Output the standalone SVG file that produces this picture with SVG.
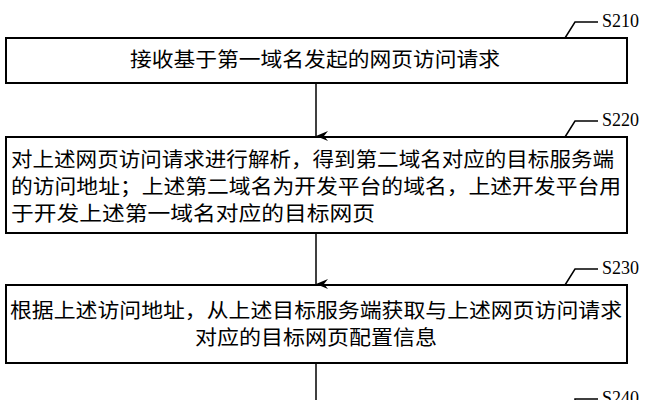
<svg xmlns="http://www.w3.org/2000/svg" width="660" height="400" viewBox="0 0 660 400">
<style>
.b{fill:#fff;stroke:#000;stroke-width:2}
.t{font-family:"Noto Sans CJK SC","Liberation Serif",sans-serif;font-size:20px;fill:#000}
.l{font-family:"Liberation Serif",serif;font-size:18px;fill:#000}
.c{fill:none;stroke:#000;stroke-width:1.5}
</style>
<defs><marker id="a" markerWidth="10" markerHeight="12" refX="5" refY="12" orient="auto" markerUnits="userSpaceOnUse"><path d="M0,0 L5,12 L10,0 L5,4 Z" fill="#000"/></marker></defs>
<rect width="660" height="400" fill="#fff"/>
<g id="n1"><rect class="b" x="6" y="38" width="621" height="45"/><text class="t" x="130" y="67" textLength="370" lengthAdjust="spacingAndGlyphs">接收基于第一域名发起的网页访问请求</text>
<path class="c" d="M565,38 L575,22 L598,22"/><text class="l" x="602" y="27">S210</text></g>
<g id="n2"><rect class="b" x="6" y="137" width="621" height="96"/>
<text class="t" x="11" y="167" textLength="603" lengthAdjust="spacingAndGlyphs">对上述网页访问请求进行解析，得到第二域名对应的目标服务端</text>
<text class="t" x="11" y="194" textLength="610" lengthAdjust="spacingAndGlyphs">的访问地址；上述第二域名为开发平台的域名，上述开发平台用</text>
<text class="t" x="11" y="221" textLength="364" lengthAdjust="spacingAndGlyphs">于开发上述第一域名对应的目标网页</text>
<path class="c" d="M565,137 L575,121 L598,121"/><text class="l" x="602" y="126">S220</text></g>
<g id="n3"><rect class="b" x="6" y="285" width="621" height="78"/>
<text class="t" x="10" y="318" textLength="612" lengthAdjust="spacingAndGlyphs">根据上述访问地址，从上述目标服务端获取与上述网页访问请求</text>
<text class="t" x="195" y="345" textLength="242" lengthAdjust="spacingAndGlyphs">对应的目标网页配置信息</text>
<path class="c" d="M565,285 L575,269 L598,269"/><text class="l" x="602" y="274">S230</text></g>
<g id="n4"><path class="c" d="M575,400 L575,399 L598,399"/><text class="l" x="602" y="404">S240</text></g>
<g id="connectors">
<path class="c" d="M316,83 V136" marker-end="url(#a)"/>
<path class="c" d="M316,233 V284" marker-end="url(#a)"/>
<path class="c" d="M316,363 V400"/>
</g>
</svg>
